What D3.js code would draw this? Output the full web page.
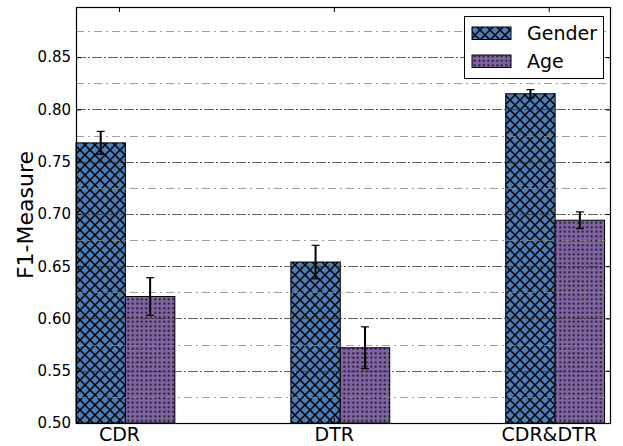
<!DOCTYPE html>
<html>
<head>
<meta charset="utf-8">
<script src="https://cdnjs.cloudflare.com/ajax/libs/d3/7.8.5/d3.min.js"></script>
<style>
  body { margin: 0; background: white; }
  svg { display: block; font-family: "DejaVu Sans", sans-serif; }
</style>
</head>
<body>
<svg width="623" height="446"></svg>
<script>
var groups = ['CDR', 'DTR', 'CDR&DTR'];
var seriesNames = ['Gender', 'Age'];
var genderValues = [0.768, 0.654, 0.815];
var genderErrors = [0.011, 0.016, 0.004];
var ageValues = [0.621, 0.572, 0.694];
var ageErrors = [0.018, 0.020, 0.008];
var yTicks = [0.50, 0.55, 0.60, 0.65, 0.70, 0.75, 0.80, 0.85];
var yMinorTicks = [0.525, 0.575, 0.625, 0.675, 0.725, 0.775, 0.825, 0.875];

var plotLeft = 76, plotRight = 611, plotTop = 7, plotBottom = 423;
var barW = 0.23;

var svg = d3.select('svg');

var x = d3.scaleLinear().domain([0, 2.49]).range([plotLeft, plotRight]);
var y = d3.scaleLinear().domain([0.5, 0.898]).range([plotBottom, plotTop]);

// hatch patterns
var defs = svg.append('defs');
var px = defs.append('pattern')
  .attr('id', 'hatchX')
  .attr('patternUnits', 'userSpaceOnUse')
  .attr('width', 10).attr('height', 10);
px.append('rect').attr('width', 10).attr('height', 10).attr('fill', '#4a7ebb');
px.append('path')
  .attr('d', 'M0,0 L10,10 M10,0 L0,10')
  .attr('stroke', '#000').attr('stroke-width', 1.5);

var pd = defs.append('pattern')
  .attr('id', 'hatchDot')
  .attr('patternUnits', 'userSpaceOnUse')
  .attr('width', 4.5).attr('height', 4.5);
pd.append('rect').attr('width', 4.5).attr('height', 4.5).attr('fill', '#8064a2');
pd.append('rect').attr('x', 1.4).attr('y', 1.4).attr('width', 1.7).attr('height', 1.7).attr('fill', '#000');

var series = [
  {name: seriesNames[0], values: genderValues, errors: genderErrors, fill: 'url(#hatchX)', off: 0},
  {name: seriesNames[1], values: ageValues, errors: ageErrors, fill: 'url(#hatchDot)', off: barW}
];

// bars
series.forEach(function(s) {
  svg.append('g').selectAll('rect')
    .data(s.values).enter()
    .append('rect')
    .attr('x', function(d, i) { return x(i + s.off); })
    .attr('y', function(d) { return y(d); })
    .attr('width', x(barW) - x(0))
    .attr('height', function(d) { return y(0.5) - y(d); })
    .attr('fill', s.fill)
    .attr('stroke', '#000')
    .attr('stroke-width', 1);
});

// grid lines (drawn over bars like the original)
svg.append('g').selectAll('line')
  .data(yMinorTicks).enter()
  .append('line')
  .attr('x1', plotLeft).attr('x2', plotRight)
  .attr('y1', function(d) { return Math.round(y(d)) + 0.5; })
  .attr('y2', function(d) { return Math.round(y(d)) + 0.5; })
  .attr('stroke', '#888').attr('stroke-width', 1)
  .attr('stroke-dasharray', '8,4,2,4')
  .attr('opacity', 0.8);

svg.append('g').selectAll('line')
  .data(yTicks.slice(1)).enter()
  .append('line')
  .attr('x1', plotLeft).attr('x2', plotRight)
  .attr('y1', function(d) { return Math.round(y(d)) + 0.5; })
  .attr('y2', function(d) { return Math.round(y(d)) + 0.5; })
  .attr('stroke', '#333').attr('stroke-width', 1)
  .attr('stroke-dasharray', '10,2,2,2')
  .attr('opacity', 0.75);

// error bars
series.forEach(function(s) {
  var g = svg.append('g');
  s.values.forEach(function(v, i) {
    var cx = x(i + s.off + barW / 2);
    var e = s.errors[i];
    g.append('line')
      .attr('x1', cx).attr('x2', cx)
      .attr('y1', y(v - e)).attr('y2', y(v + e))
      .attr('stroke', '#000').attr('stroke-width', 2);
    [v - e, v + e].forEach(function(c) {
      g.append('line')
        .attr('x1', cx - 4).attr('x2', cx + 4)
        .attr('y1', y(c)).attr('y2', y(c))
        .attr('stroke', '#000').attr('stroke-width', 1.2);
    });
  });
});

// axes
var yAxis = d3.axisLeft(y).tickValues(yTicks).tickFormat(d3.format('.2f')).tickSize(-5).tickPadding(5);
var gy = svg.append('g').attr('transform', 'translate(' + plotLeft + ',0)').call(yAxis);
gy.select('.domain').remove();
gy.attr('font-family', null).attr('font-size', null);
gy.selectAll('text').style('font-size', '15px').attr('fill', '#000');
gy.selectAll('line').attr('stroke', '#000');

var gyr = svg.append('g').attr('transform', 'translate(' + plotRight + ',0)')
  .call(d3.axisRight(y).tickValues(yTicks).tickSize(-5).tickFormat(''));
gyr.select('.domain').remove();

var tickPos = groups.map(function(g, i) { return i + 0.2; });
var xAxis = d3.axisBottom(x).tickValues(tickPos)
  .tickFormat(function(d, i) { return groups[i]; }).tickSize(-5);
var gx = svg.append('g').attr('transform', 'translate(0,' + plotBottom + ')').call(xAxis);
gx.select('.domain').remove();
gx.attr('font-family', null).attr('font-size', null);
gx.selectAll('text')
  .attr('y', 18).attr('dy', null)
  .style('font-size', '19px').attr('fill', '#000');

var gxt = svg.append('g').attr('transform', 'translate(0,' + plotTop + ')')
  .call(d3.axisTop(x).tickValues(tickPos).tickSize(-5).tickFormat(''));
gxt.select('.domain').remove();

// frame
svg.append('rect')
  .attr('x', plotLeft + 0.5).attr('y', plotTop + 0.5)
  .attr('width', plotRight - plotLeft - 1).attr('height', plotBottom - plotTop)
  .attr('fill', 'none').attr('stroke', '#000').attr('stroke-width', 1.2);

// y label
svg.append('text')
  .attr('transform', 'translate(33,' + ((plotTop + plotBottom) / 2) + ') rotate(-90)')
  .attr('text-anchor', 'middle')
  .style('font-size', '22px')
  .text('F1-Measure');

// legend
var lg = svg.append('g');
lg.append('rect')
  .attr('x', 464.5).attr('y', 16.5).attr('width', 139).attr('height', 62)
  .attr('fill', '#fff').attr('stroke', '#000').attr('stroke-width', 1);
series.forEach(function(s, i) {
  lg.append('rect')
    .attr('x', 472).attr('y', 27 + i * 28).attr('width', 39).attr('height', 12.5)
    .attr('fill', s.fill).attr('stroke', '#000').attr('stroke-width', 1);
  lg.append('text')
    .attr('x', 527).attr('y', 39.5 + i * 28)
    .style('font-size', '19px')
    .text(s.name);
});
</script>
</body>
</html>
